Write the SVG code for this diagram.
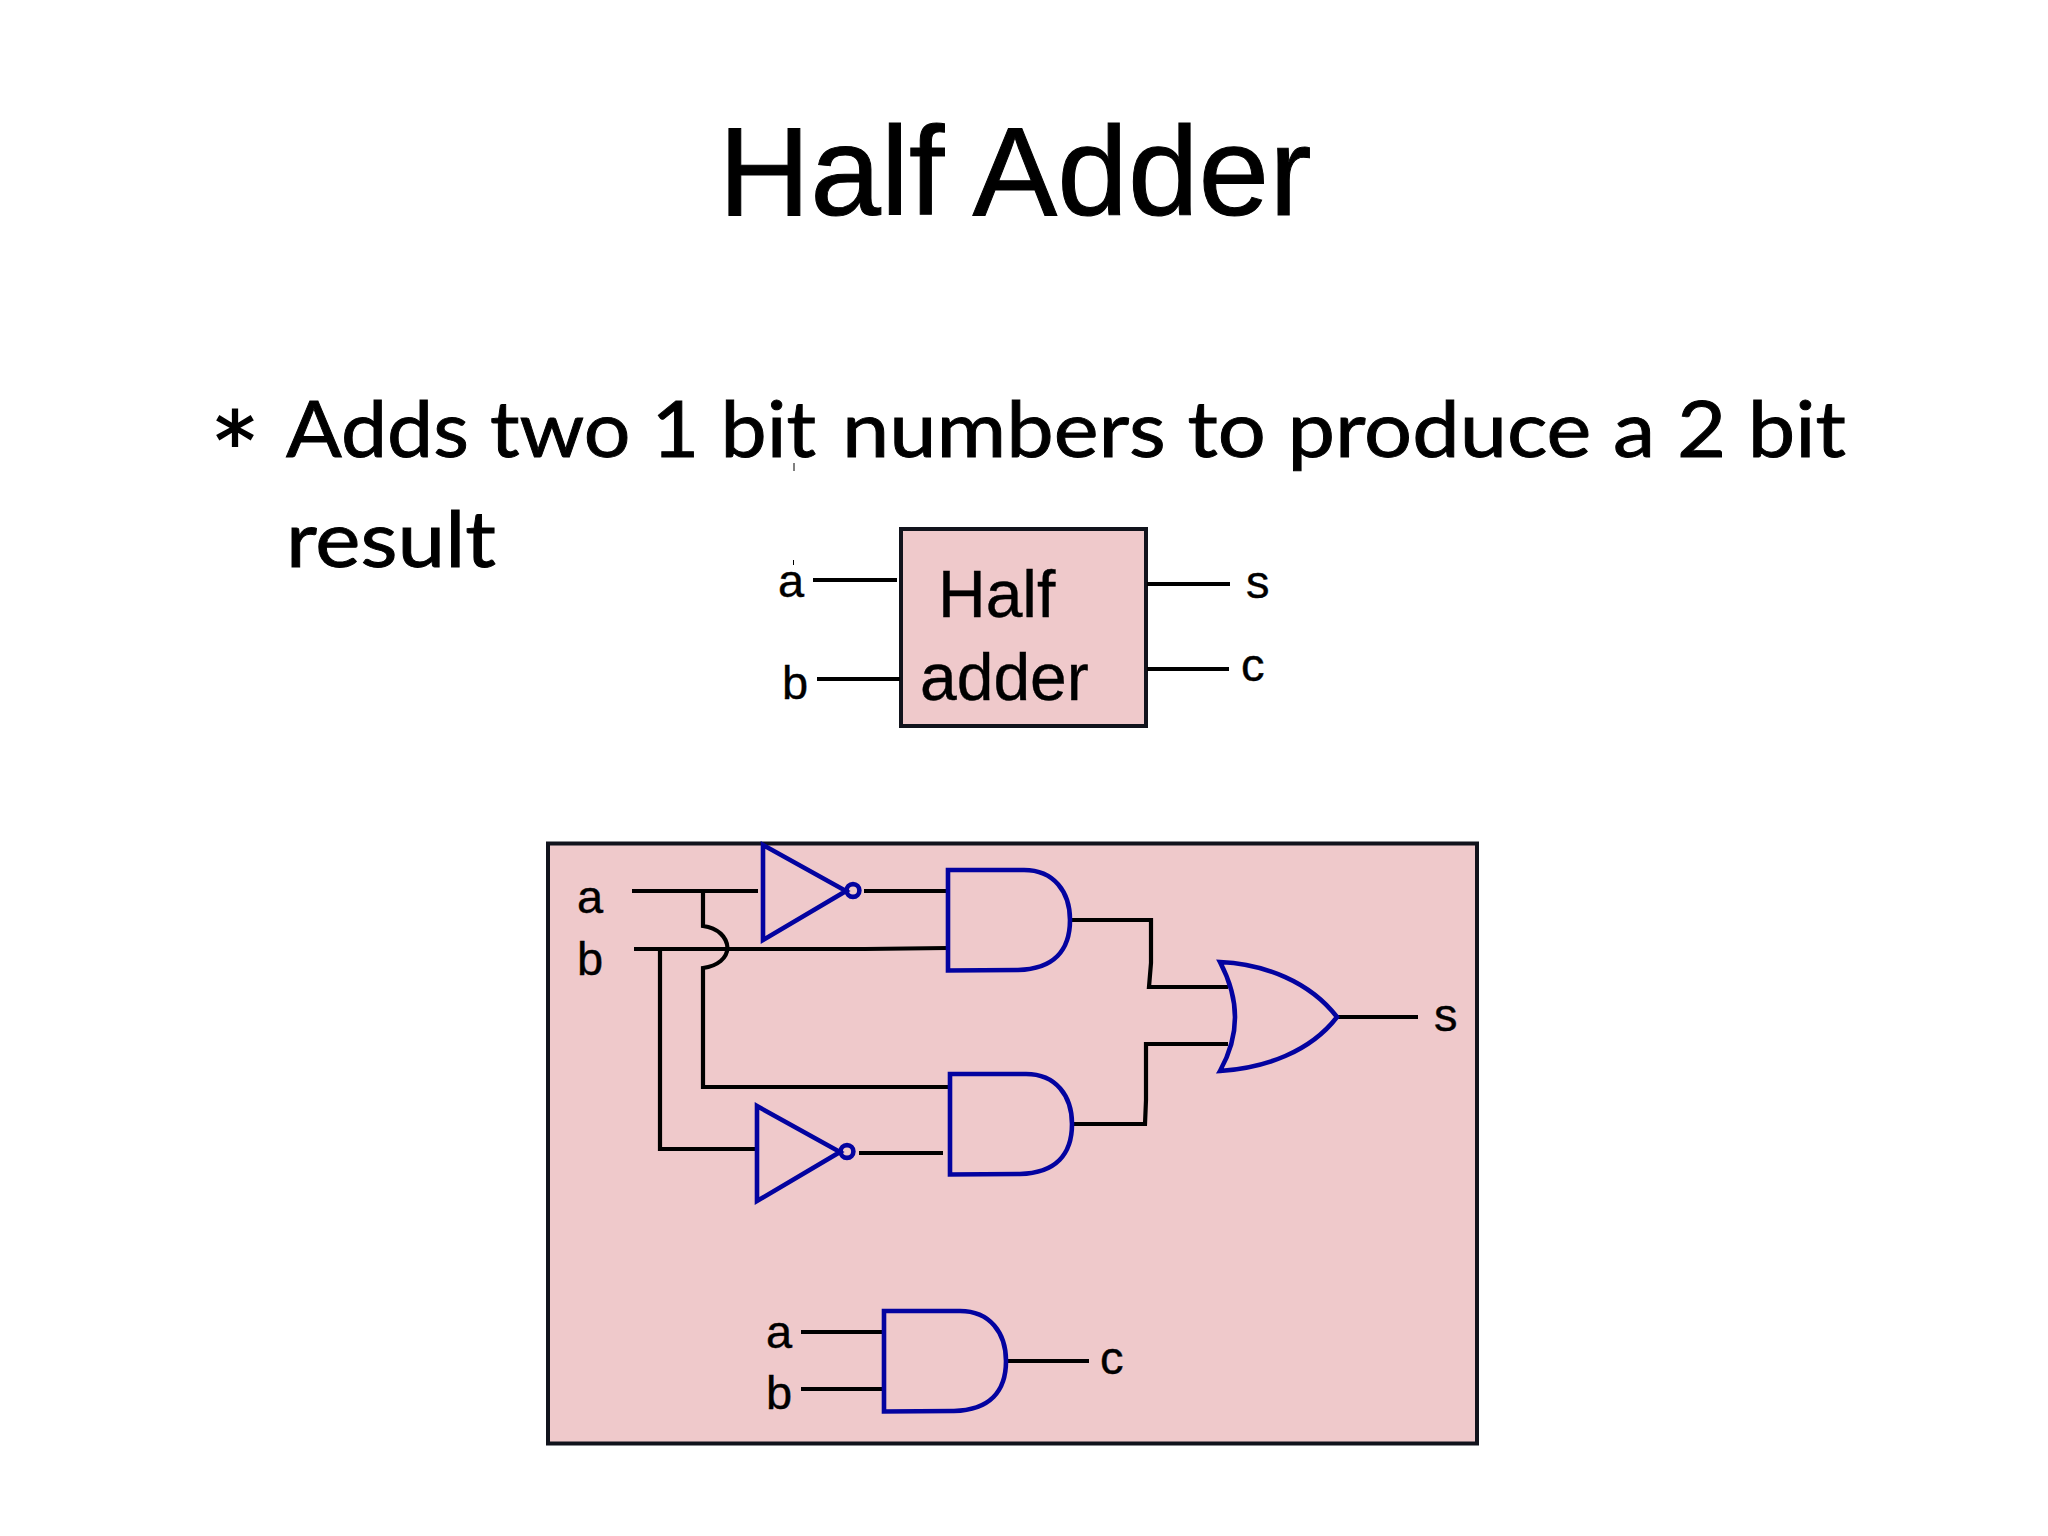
<svg xmlns="http://www.w3.org/2000/svg" width="2048" height="1536" viewBox="0 0 2048 1536">
<style>
.sans{font-family:"Liberation Sans",Arial,sans-serif;fill:#000;stroke:#000;stroke-width:.4}
.lbl{font-size:47px}
.inner{font-size:66px}
.body{font-family:Lato,"Noto Sans",sans-serif;font-size:78px;fill:#000;stroke:#000;stroke-width:.9}
.block{fill:#efc9cb;stroke:#11131c;stroke-width:4}
.wire{fill:none;stroke:#000;stroke-width:4.2}
.gate{fill:none;stroke:#0303a0;stroke-width:4.6}
</style>
<defs>
<path id="andShape" class="gate" d="M0,-50 L76,-50 C106,-50 122,-28 122,0 C122,30 106,49 70,50 L0,50.500 Z"/>
<g id="notShape">
<path class="gate" d="M0,-46 L83,0 L0,49 Z"/>
<circle class="gate" cx="90" cy="-0.500" r="6.400"/>
</g>
</defs>
<rect width="2048" height="1536" fill="#fff"/>
<g id="title"><text class="sans" x="1015" y="215" font-size="127" text-anchor="middle" style="stroke-width:1">Half Adder</text></g>
<g id="bullet">
<text x="215" y="469" font-family="DejaVu Sans,sans-serif" font-size="80" fill="#000" stroke="#000" stroke-width="1.800">*</text>
<text class="body" y="457"><tspan x="286" textLength="530" lengthAdjust="spacingAndGlyphs">Adds two 1 bit</tspan> <tspan x="842" textLength="1004" lengthAdjust="spacingAndGlyphs">numbers to produce a 2 bit</tspan></text>
<text class="body" x="286" y="567" textLength="210" lengthAdjust="spacingAndGlyphs">result</text>
</g>
<g id="half-adder-block">
<rect class="block" x="901" y="529" width="245" height="197"/>
<text class="sans inner" x="938" y="617">Half</text>
<text class="sans inner" x="920" y="700">adder</text>
</g>
<g id="circuit-block"><rect class="block" x="548" y="843.500" width="929" height="600" /></g>
<g id="connectors">
<path class="wire" d="M813,580H897M817,679H900M1147,584H1230M1147,669H1229"/>
<path class="wire" d="M632,891H758M703,891V926C718,928 727,937 727.500,948C727,958 718,966 703,968V1087H948"/>
<path class="wire" d="M634,949H865L948,948M660,949V1149H756"/>
<path class="wire" d="M864,891H948M859,1153H943"/>
<path class="wire" d="M1071,920H1151V963L1149,987H1228M1073,1124H1145L1146,1100V1044H1228"/>
<path class="wire" d="M1338,1017H1418"/>
<path class="wire" d="M801,1332H884M801,1389H884M1007,1361H1089"/>
<path class="wire" style="stroke-width:1" d="M794,463V471M793.500,560V565"/>
</g>
<g id="not-1"><use href="#notShape" x="763" y="891"/></g>
<g id="not-2"><use href="#notShape" x="757" y="1152"/></g>
<g id="and-1"><use href="#andShape" x="948" y="920"/></g>
<g id="and-2"><use href="#andShape" x="950" y="1124"/></g>
<g id="and-3"><use href="#andShape" x="884" y="1361"/></g>
<g id="or-1"><path class="gate" d="M1220,962 C1265,964 1310,982 1337,1017 C1310,1052 1265,1068 1220,1071 C1240,1035 1240,1000 1220,962 Z"/></g>
<g id="labels">
<text class="sans lbl" x="778" y="597">a</text>
<text class="sans lbl" x="782" y="699">b</text>
<text class="sans lbl" x="1246" y="598">s</text>
<text class="sans lbl" x="1241" y="681">c</text>
<text class="sans lbl" x="577" y="913">a</text>
<text class="sans lbl" x="577" y="975">b</text>
<text class="sans lbl" x="1434" y="1031">s</text>
<text class="sans lbl" x="766" y="1348">a</text>
<text class="sans lbl" x="766" y="1409">b</text>
<text class="sans lbl" x="1100" y="1374">c</text>
</g>
</svg>
